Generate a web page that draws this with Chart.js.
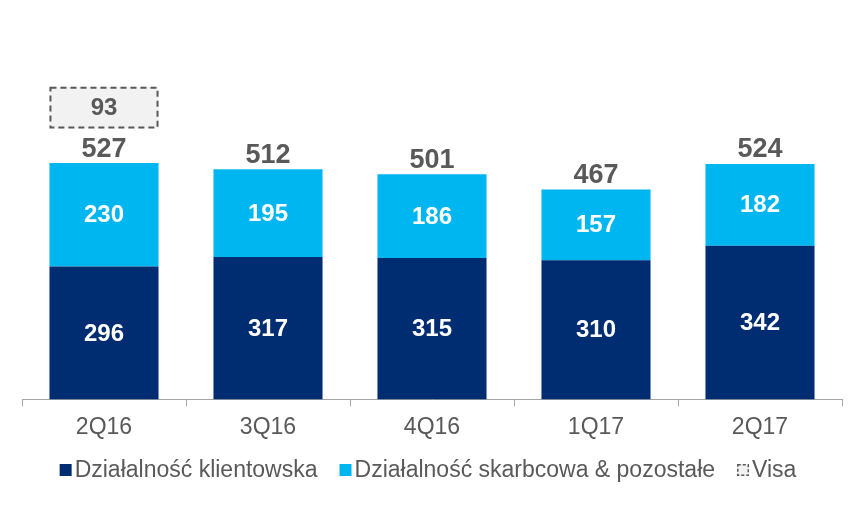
<!DOCTYPE html>
<html>
<head>
<meta charset="utf-8">
<script src="https://cdn.jsdelivr.net/npm/chart.js@4/dist/chart.umd.min.js"></script>
<style>
  html, body { margin: 0; padding: 0; background: #fff; }
  #wrap { width: 862px; height: 531px; position: relative; }
</style>
</head>
<body>
<div id="wrap"><canvas id="barChart"></canvas></div>
<script>
// data
const quarters = ['2Q16', '3Q16', '4Q16', '1Q17', '2Q17'];
const clientValues = [296, 317, 315, 310, 342];
const treasuryValues = [230, 195, 186, 157, 182];
const totals = [527, 512, 501, 467, 524];
const visaValues = [93, null, null, null, null];
const visaGap = [77, null, null, null, null];   // empty space between total label and Visa box

const navy = '#002D72';
const cyan = '#00B6F0';
const grayText = '#595959';
const fontFamily = '"Liberation Sans", Arial, sans-serif';

const labelPlugin = {
    id: 'barLabels',
    afterDatasetsDraw(chart) {
        const ctx = chart.ctx;
        ctx.save();
        ctx.textAlign = 'center';
        ctx.textBaseline = 'middle';
        [0, 1].forEach(function(di) {
            const meta = chart.getDatasetMeta(di);
            const vals = chart.data.datasets[di].data;
            meta.data.forEach(function(bar, i) {
                ctx.fillStyle = '#fff';
                ctx.font = 'bold 24px ' + fontFamily;
                ctx.fillText(vals[i], bar.x, (bar.y + bar.base) / 2 + 1);
            });
        });
        // totals above each bar
        chart.getDatasetMeta(1).data.forEach(function(bar, i) {
            ctx.fillStyle = grayText;
            ctx.font = 'bold 27px ' + fontFamily;
            ctx.fillText(totals[i], bar.x, bar.y - 14);
        });
        // Visa box: dashed outline + label
        chart.getDatasetMeta(3).data.forEach(function(bar, i) {
            if (visaValues[i] == null) return;
            const w = bar.width;
            ctx.strokeStyle = grayText;
            ctx.lineWidth = 2;
            ctx.setLineDash([6, 4]);
            ctx.strokeRect(bar.x - w / 2 + 1, bar.y + 1, w - 2, bar.base - bar.y - 2);
            ctx.setLineDash([]);
            ctx.fillStyle = grayText;
            ctx.font = 'bold 24px ' + fontFamily;
            ctx.fillText(visaValues[i], bar.x, (bar.y + bar.base) / 2 + 1);
        });
        ctx.restore();
    },
    afterDraw(chart) {
        // legend drawn by hand so box/text spacing matches
        const ctx = chart.ctx;
        const items = [
            { text: chart.data.datasets[0].label, fill: navy, dash: false },
            { text: chart.data.datasets[1].label, fill: cyan, dash: false },
            { text: chart.data.datasets[3].label, fill: '#F2F2F2', dash: true }
        ];
        const box = 12, gap = 3, itemGap = 22, y = 470;
        ctx.save();
        ctx.font = '23px ' + fontFamily;
        ctx.textBaseline = 'middle';
        ctx.textAlign = 'left';
        let total = 0;
        items.forEach(function(it, k) {
            it.w = ctx.measureText(it.text).width;
            total += box + gap + it.w + (k < items.length - 1 ? itemGap : 0);
        });
        let x = chart.width / 2 - total / 2 - 3;
        items.forEach(function(it) {
            ctx.fillStyle = it.fill;
            ctx.fillRect(x, y - box / 2, box, box);
            if (it.dash) {
                ctx.strokeStyle = grayText;
                ctx.lineWidth = 1.5;
                ctx.setLineDash([3, 2]);
                ctx.strokeRect(x + 0.75, y - box / 2 + 0.75, box - 1.5, box - 1.5);
                ctx.setLineDash([]);
            }
            ctx.fillStyle = grayText;
            ctx.fillText(it.text, x + box + gap, y + 1);
            x += box + gap + it.w + itemGap;
        });
        ctx.restore();
    }
};

new Chart(document.getElementById('barChart').getContext('2d'), {
    type: 'bar',
    data: {
        labels: quarters,
        datasets: [
            { label: 'Działalność klientowska', data: clientValues, backgroundColor: navy, borderWidth: 0 },
            { label: 'Działalność skarbcowa & pozostałe', data: treasuryValues, backgroundColor: cyan, borderWidth: 0 },
            { label: 'spacer', data: visaGap, backgroundColor: 'rgba(0,0,0,0)', borderWidth: 0 },
            { label: 'Visa', data: visaValues, backgroundColor: '#F2F2F2', borderWidth: 0 }
        ]
    },
    options: {
        responsive: true,
        maintainAspectRatio: false,
        animation: false,
        layout: { padding: { top: 31, left: 22, right: 20, bottom: 83 } },
        datasets: { bar: { categoryPercentage: 1, barPercentage: 0.665 } },
        scales: {
            x: {
                stacked: true,
                grid: { display: true, drawOnChartArea: false, tickLength: 7, color: '#A6A6A6', offset: true },
                border: { color: '#A6A6A6', width: 1 },
                ticks: { color: grayText, font: { family: fontFamily, size: 23 }, padding: 7 }
            },
            y: {
                stacked: true,
                display: false,
                min: 0,
                max: 820
            }
        },
        plugins: {
            legend: { display: false },
            tooltip: { enabled: false }
        }
    },
    plugins: [labelPlugin]
});
</script>
</body>
</html>
